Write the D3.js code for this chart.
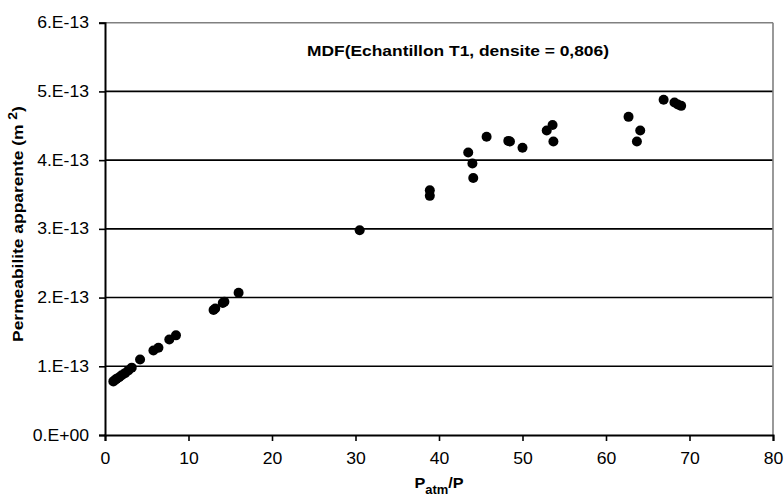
<!DOCTYPE html>
<html><head><meta charset="utf-8">
<script src="https://cdn.jsdelivr.net/npm/d3@7"></script>
<style>body{margin:0;background:#fff}svg{display:block}text{font-family:"Liberation Sans",Arial,sans-serif}</style>
</head><body>
<svg id="c" width="784" height="500"></svg>
<script>
const ratio = [1.0,1.2,1.4,1.7,2.0,2.4,2.8,3.2,4.2,5.8,6.4,7.7,8.5,13.0,13.2,14.1,14.3,16.0,30.5,38.9,38.9,43.5,44.0,44.1,45.7,48.3,48.5,50.0,52.9,53.6,53.7,62.7,63.7,64.1,66.9,68.2,68.6,69.0];
const perm = [0.78e-13,0.80e-13,0.82e-13,0.84e-13,0.87e-13,0.90e-13,0.94e-13,0.98e-13,1.10e-13,1.23e-13,1.27e-13,1.39e-13,1.45e-13,1.82e-13,1.84e-13,1.92e-13,1.94e-13,2.07e-13,2.98e-13,3.56e-13,3.48e-13,4.11e-13,3.95e-13,3.74e-13,4.34e-13,4.28e-13,4.27e-13,4.18e-13,4.43e-13,4.51e-13,4.27e-13,4.63e-13,4.27e-13,4.43e-13,4.88e-13,4.84e-13,4.81e-13,4.79e-13];
const xTicks = [0,10,20,30,40,50,60,70,80];
const yTicks = [0,1e-13,2e-13,3e-13,4e-13,5e-13,6e-13];
const yTickLabels = ["0.E+00","1.E-13","2.E-13","3.E-13","4.E-13","5.E-13","6.E-13"];
const chartTitle = "MDF(Echantillon T1, densite = 0,806)";

const svg = d3.select("#c");
const x = d3.scaleLinear().domain([0,80]).range([105,773]);
const y = d3.scaleLinear().domain([0,6e-13]).range([435,22.7]);
const tickStretch = 1.1, titleStretch = 1.16;

// gridlines
svg.append("g").selectAll("line").data(yTicks.slice(1,6)).join("line")
  .attr("x1",x(0)).attr("x2",x(80)).attr("y1",d=>y(d)).attr("y2",d=>y(d))
  .attr("stroke","#000").attr("stroke-width",1.6);
// top and right border
svg.append("line").attr("x1",x(0)).attr("x2",x(80)).attr("y1",y(6e-13)).attr("y2",y(6e-13)).attr("stroke","#808080").attr("stroke-width",1.6);
svg.append("line").attr("x1",x(80)).attr("x2",x(80)).attr("y1",y(6e-13)).attr("y2",y(0)).attr("stroke","#808080").attr("stroke-width",1.6);

// axes
const xAxis = d3.axisBottom(x).tickValues(xTicks).tickSize(6).tickPadding(12).tickFormat(d3.format("d"));
const gx = svg.append("g").attr("transform",`translate(0,${y(0)})`).call(xAxis);
const yAxis = d3.axisLeft(y).tickValues(yTicks).tickSize(6).tickPadding(6).tickFormat((d,i)=>yTickLabels[i]);
const gy = svg.append("g").attr("transform",`translate(${x(0)},0)`).call(yAxis);
[gx,gy].forEach(g=>{
  g.select(".domain").attr("stroke","#000").attr("stroke-width",2);
  g.selectAll(".tick line").attr("stroke","#000").attr("stroke-width",1.6);
  g.selectAll(".tick text").attr("fill","#000").style("font-size","16px")
    .style("font-family","'Liberation Sans',Arial,sans-serif")
    .attr("transform",`scale(${tickStretch},1)`);
});
gy.selectAll(".tick text").attr("x",-16/tickStretch);

// points
svg.append("g").selectAll("circle").data(ratio.map((r,i)=>[r,perm[i]])).join("circle")
  .attr("cx",d=>x(d[0])).attr("cy",d=>y(d[1])).attr("r",5).attr("fill","#000");

// title
svg.append("text").attr("transform",`translate(458,56) scale(${titleStretch},1)`).attr("text-anchor","middle")
  .style("font-weight","bold").style("font-size","15px").text(chartTitle);

// x title
const xt = svg.append("text").attr("transform",`translate(439,488) scale(1.08,1)`).attr("text-anchor","middle")
  .style("font-weight","bold").style("font-size","15px");
xt.append("tspan").text("P");
xt.append("tspan").attr("dy",6).style("font-size","12px").text("atm");
xt.append("tspan").attr("dy",-6).text("/P");

// y title
const yt = svg.append("text").attr("transform",`translate(23,224) rotate(-90) scale(${titleStretch},1)`).attr("text-anchor","middle")
  .style("font-weight","bold").style("font-size","15px");
yt.append("tspan").text("Permeabilite apparente (m ");
yt.append("tspan").attr("dy",-6).style("font-size","12px").text("2");
yt.append("tspan").attr("dy",6).text(")");
</script>
</body></html>
